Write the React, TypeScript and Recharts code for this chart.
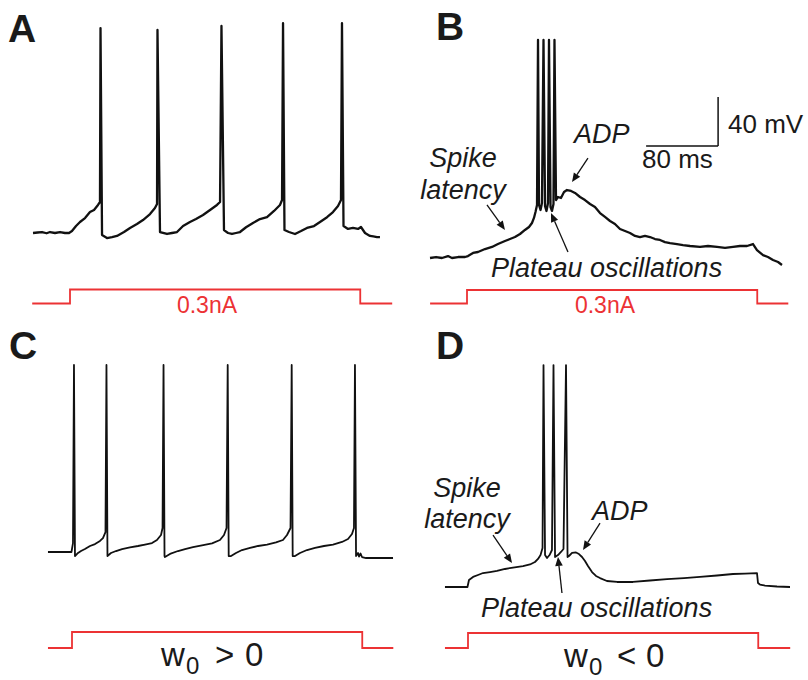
import React from "react";
import { LineChart, Line, XAxis, YAxis, ReferenceLine } from "recharts";

// units: time in ms (0 = current step onset), membrane potential in mV, current in nA
const REST_MV = -70;
const PX_PER_MS = 0.9;
const PX_PER_MV = 1.225;
const STEP_NA = 0.3;
const RED = "#ec3234";
const INK = "#111";
const FONT = "'Liberation Sans', Arial, Helvetica, sans-serif";

// stimulus: step times and current levels (stepAfter)
const STIM_I = [0, STEP_NA, 0, 0];
const STIM_A_T = [-42, 0, 322.5, 358];
const STIM_B_T = [-41, 0, 322.5, 357];
const STIM_C_T = [-26.7, 0, 322.5, 357];
const STIM_D_T = [-25.6, 0, 322.5, 358];

// A: recorded, regular firing
const TRACE_A: [number, number][] = [
  [-41.1, -70], [-36, -69.6], [-31.1, -69.2], [-26, -70.2], [-22.2, -69.2], [-16.7, -70], [-11.1, -69.2],
  [-5.6, -70], [-1.1, -70], [2.2, -68.4], [6.7, -64.3], [11.1, -61], [16.7, -57.8], [22.2, -52.9],
  [26.7, -51.2], [31.1, -47.1], [33.3, -44.7], [33.9, 97.3], [35.6, -71.6], [41.1, -74.1], [46.7, -73.3],
  [52.2, -72.4], [60, -69.2], [66.7, -65.9], [74.4, -62.7], [81.1, -59.4], [88.9, -54.5], [94.4, -49.6],
  [96.7, -46.3], [97.2, 95.7], [100, -69.2], [107.8, -70.8], [113.3, -70], [118.9, -69.2], [125.6, -64.3],
  [133.3, -61], [140, -58.6], [147.8, -55.3], [155.6, -51.2], [163.3, -47.1], [166.7, -44.7], [168.3, 99],
  [171.1, -67.6], [175.6, -70], [180, -70.8], [184.4, -70], [188.9, -69.2], [195.6, -65.3], [203.3, -61.8],
  [211.1, -58.6], [218.9, -57.1], [226.7, -52], [233.3, -47.1], [235.6, -43.1], [236.7, 101.4],
  [238.3, -67.6], [243.3, -69.2], [250, -70.8], [256.7, -68.4], [263.3, -65.9], [271.1, -64.3],
  [277.8, -61], [285.6, -57.1], [292.2, -52.9], [297.8, -48], [301.1, -43.1], [302.2, 101.4],
  [303.9, -64.3], [308.9, -66.7], [314.4, -65.9], [320, -66.7], [323.3, -65.1], [327.8, -70],
  [333.3, -72.4], [337, -72.8], [341.1, -73.3], [344.4, -73.3],
];

// B: recorded, latency + burst + ADP
const TRACE_B: [number, number][] = [
  [-41.1, -70], [-34.4, -69.2], [-27.8, -70], [-21.1, -68.4], [-16.7, -70], [-10, -69.2], [-2.2, -69.2],
  [1.1, -68.4], [6.7, -65.9], [12.2, -65.1], [20, -62.7], [27.8, -61], [34.4, -58.6], [42.2, -56.1],
  [47.8, -54.5], [53.3, -52.9], [58.9, -50.4], [64.4, -47.1], [68.9, -44.7], [72.2, -41.4], [74.4, -37.3],
  [76.1, -32.4], [77.8, -26.7], [78.9, 108], [80, -26.7], [81.7, -30.8], [83.3, -25.1], [85, 108],
  [86.7, -27.6], [88.3, -31.6], [90, -25.1], [91.1, 108], [92.8, -28.4], [94.4, -31.6], [96.1, -25.9],
  [97.2, 108], [98.9, -22.7], [101.1, -20.2], [104.4, -21], [107.8, -16.1], [111.1, -14.5], [115.6, -15.3],
  [120, -16.9], [125.6, -20.2], [131.1, -22.7], [136.7, -25.9], [142.2, -28.4], [147.8, -33.3],
  [153.3, -36.5], [158.9, -39.8], [164.4, -42.2], [170, -46.3], [175.6, -48], [181.1, -49.6],
  [186.7, -52], [192.2, -52.9], [197.8, -52], [203.3, -52.9], [208.9, -54.5], [214.4, -55.3], [220, -57],
  [225.6, -57.8], [233.3, -58.6], [240, -59.4], [247.8, -60.2], [258.9, -61], [267.8, -60.2],
  [277.8, -61], [286.7, -61.8], [295.6, -61], [303.3, -60.2], [311.1, -60.2], [317.8, -58.6],
  [322.2, -63.5], [328.9, -67.6], [334.4, -69.2], [340, -71.6], [345.6, -73.3], [350, -75.7],
];

// C: model, w0 > 0
const TRACE_C: [number, number][] = [
  [-26.7, -70], [-0.6, -70], [1.1, -62.7], [2.2, 82.7], [3.3, -73.3], [6.7, -70.8], [10, -69.2],
  [14.4, -67.6], [20, -65.1], [25.6, -63.5], [31.1, -61], [34.4, -58.6], [37.2, -53.7], [38.3, 82.7],
  [39.4, -73.3], [43.3, -70.8], [48.9, -69.2], [55.6, -67.6], [64.4, -66.3], [73.3, -65.1], [81.1, -63.9],
  [88.9, -62.7], [94.4, -60.2], [98.9, -56.1], [100.6, -50.4], [101.7, 82.7], [102.8, -73.3],
  [103.3, -74.1], [108.9, -71.6], [117.8, -69.2], [125.6, -67.6], [134.4, -66.1], [144.4, -64.5],
  [155.6, -62.9], [164.4, -60.2], [168.9, -56.1], [171.7, -50.4], [173, 82.7], [174.1, -73.3],
  [176.7, -73.3], [182.2, -70.8], [188.9, -68.4], [197.8, -66.7], [206.7, -65.1], [216.7, -63.9],
  [226.7, -62.2], [234.4, -60.2], [238.9, -56.1], [242.8, -50.4], [244.1, 82.7], [245.2, -73.3],
  [247.8, -73.3], [253.3, -70.8], [261.1, -68.4], [270, -66.7], [280, -65.1], [290, -63.9], [300, -61.8],
  [306.7, -59.4], [311.1, -55.3], [313.3, -50.4], [314.4, 82.7], [315.6, -73.3], [317.8, -70.8],
  [318.9, -73.7], [320.6, -71.2], [322.2, -74.1], [326.7, -74.9], [356.7, -74.9],
];

// D: model, w0 < 0
const TRACE_D: [number, number][] = [
  [-25.6, -70], [-0.6, -70], [1.1, -64.3], [5.6, -61.8], [11.1, -60.2], [16.7, -58.6], [24.4, -57.8],
  [32.2, -56.9], [41.1, -55.3], [50, -54.1], [61.1, -52.9], [68.9, -51.6], [74.4, -49.6], [77.8, -47.1],
  [80.6, -43.9], [82.8, -38.2], [83.9, 111.2], [85.6, -43.9], [87.8, -46.3], [90.6, -43.9], [93.3, -39.8],
  [95, 111.2], [96.7, -45.5], [100, -43.9], [103.3, -41.4], [106.1, -39], [108.9, 111.2], [110.6, -45.5],
  [112.2, -44.7], [115.6, -42.2], [120, -41.8], [123.3, -43.1], [126.7, -45.5], [130, -48.8],
  [133.3, -52.9], [137.8, -57.8], [142.2, -61], [146.7, -62.7], [154.4, -65.1], [165.6, -65.9],
  [183.3, -65.9], [202.2, -64.7], [221.1, -63.5], [240, -62.7], [257.8, -61.8], [276.7, -60.6],
  [294.4, -59.4], [307.8, -59], [321.1, -58.6], [322.2, -66.7], [324.4, -68], [330, -68.8],
  [343.3, -69.6], [357.8, -70],
];

// annotation arrows [[tFrom, vFrom], [tTip, vTip]]
const ARROWS_B: [number, number][][] = [
  [[22.2, -26.7], [42.2, -47.1]],
  [[112.2, -65.1], [93.3, -33.3]],
  [[134.4, 11.6], [116.7, -8]],
];
const ARROWS_D: [number, number][][] = [
  [[27.8, -27.6], [48.9, -50.4]],
  [[146.7, -17.8], [127.8, -39.8]],
  [[104.4, -74.9], [100, -45.5]],
];

// scale bar (B)
const SCALE_MS = 80;
const SCALE_MV = 40;
const SCALE_CORNER: [number, number] = [279, 21.4];

type Box = { left: number; top: number; width: number; height: number; x0: number; yRest: number; iBase: number; iTop: number };

const BOX_A: Box = { left: 20, top: 10, width: 385, height: 310, x0: 70, yRest: 233, iBase: 303.5, iTop: 289.5 };
const BOX_B: Box = { left: 415, top: 10, width: 393, height: 310, x0: 467, yRest: 258, iBase: 303.5, iTop: 290 };
const BOX_C: Box = { left: 20, top: 330, width: 385, height: 345, x0: 72, yRest: 552, iBase: 648, iTop: 632 };
const BOX_D: Box = { left: 415, top: 330, width: 393, height: 345, x0: 468, yRest: 587, iBase: 648, iTop: 633 };

function domains(b: Box) {
  const t: [number, number] = [(b.left - b.x0) / PX_PER_MS, (b.left + b.width - b.x0) / PX_PER_MS];
  const v: [number, number] = [
    REST_MV - (b.top + b.height - b.yRest) / PX_PER_MV,
    REST_MV + (b.yRest - b.top) / PX_PER_MV,
  ];
  const k = STEP_NA / (b.iBase - b.iTop);
  const i: [number, number] = [-(b.top + b.height - b.iBase) * k, (b.iBase - b.top) * k];
  return { t, v, i };
}

const ArrowShape = (p: any) => {
  const { x1, y1, x2, y2 } = p;
  const a = Math.atan2(y2 - y1, x2 - x1);
  const len = 9;
  const half = 3.8;
  const bx = x2 - len * Math.cos(a);
  const by = y2 - len * Math.sin(a);
  const px = -Math.sin(a) * half;
  const py = Math.cos(a) * half;
  return (
    <g>
      <line x1={x1} y1={y1} x2={bx} y2={by} stroke={INK} strokeWidth={1.3} />
      <polygon points={`${x2},${y2} ${bx + px},${by + py} ${bx - px},${by - py}`} fill={INK} />
    </g>
  );
};

function Panel({ box, trace, stimT, traceWidth, children }: { box: Box; trace: [number, number][]; stimT: number[]; traceWidth: number; children?: React.ReactNode }) {
  const d = domains(box);
  const traceData = trace.map(([t, v]) => ({ t, v }));
  const stimData = stimT.map((t, k) => ({ t, i: STIM_I[k] }));
  return (
    <div style={{ position: "absolute", left: box.left, top: box.top }}>
      <LineChart width={box.width} height={box.height} margin={{ top: 0, right: 0, bottom: 0, left: 0 }}>
        <XAxis type="number" dataKey="t" domain={d.t} hide allowDataOverflow />
        <YAxis yAxisId="v" type="number" domain={d.v} hide allowDataOverflow />
        <YAxis yAxisId="i" type="number" domain={d.i} hide allowDataOverflow />
        <Line data={stimData} yAxisId="i" dataKey="i" type="stepAfter" stroke={RED} strokeWidth={1.8} dot={false} isAnimationActive={false} />
        <Line data={traceData} yAxisId="v" dataKey="v" type="linear" stroke={INK} strokeWidth={traceWidth} strokeLinejoin="round" dot={false} isAnimationActive={false} />
        {children}
      </LineChart>
    </div>
  );
}

const arrowLines = (arrows: [number, number][][], prefix: string) =>
  arrows.map(([from, tip], k) => (
    <ReferenceLine
      key={prefix + k}
      yAxisId="v"
      segment={[{ x: from[0], y: from[1] }, { x: tip[0], y: tip[1] }]}
      shape={ArrowShape}
      ifOverflow="visible"
    />
  ));

const txt = { fontFamily: FONT, fill: "#1a1a1a" };
const ital = { ...txt, fontStyle: "italic", fontSize: 27 };

export default function App() {
  const [ct, cv] = SCALE_CORNER;
  return (
    <div style={{ position: "absolute", left: 0, top: 0, width: 808, height: 680, background: "#fff", overflow: "hidden" }}>
      <Panel box={BOX_A} trace={TRACE_A} stimT={STIM_A_T} traceWidth={2.3} />
      <Panel box={BOX_B} trace={TRACE_B} stimT={STIM_B_T} traceWidth={2.3}>
        {arrowLines(ARROWS_B, "b")}
        <ReferenceLine yAxisId="v" segment={[{ x: ct - SCALE_MS, y: cv }, { x: ct, y: cv }]} stroke={INK} strokeWidth={1.5} ifOverflow="visible" />
        <ReferenceLine yAxisId="v" segment={[{ x: ct, y: cv }, { x: ct, y: cv + SCALE_MV }]} stroke={INK} strokeWidth={1.5} ifOverflow="visible" />
      </Panel>
      <Panel box={BOX_C} trace={TRACE_C} stimT={STIM_C_T} traceWidth={1.8} />
      <Panel box={BOX_D} trace={TRACE_D} stimT={STIM_D_T} traceWidth={1.8}>
        {arrowLines(ARROWS_D, "d")}
      </Panel>
      <svg width={808} height={680} style={{ position: "absolute", left: 0, top: 0, pointerEvents: "none" }}>
        <text x={8} y={42} {...txt} fontWeight={700} fontSize={39}>A</text>
        <text x={436} y={40} {...txt} fontWeight={700} fontSize={39}>B</text>
        <text x={9} y={359} {...txt} fontWeight={700} fontSize={39}>C</text>
        <text x={436} y={359} {...txt} fontWeight={700} fontSize={39}>D</text>

        <text x={207} y={313} textAnchor="middle" fontFamily={FONT} fontSize={23} fill={RED}>0.3nA</text>
        <text x={605} y={313} textAnchor="middle" fontFamily={FONT} fontSize={23} fill={RED}>0.3nA</text>

        <text x={463} y={167} textAnchor="middle" style={ital}>Spike</text>
        <text x={463} y={199} textAnchor="middle" style={ital}>latency</text>
        <text x={574} y={143} style={ital}>ADP</text>
        <text x={491} y={277} style={ital}>Plateau oscillations</text>
        <text x={728} y={133} fontFamily={FONT} fontSize={26} fill="#1a1a1a">40 mV</text>
        <text x={642} y={168} fontFamily={FONT} fontSize={26} fill="#1a1a1a">80 ms</text>

        <text x={467} y={497} textAnchor="middle" style={ital}>Spike</text>
        <text x={467} y={528} textAnchor="middle" style={ital}>latency</text>
        <text x={592} y={520} style={ital}>ADP</text>
        <text x={481} y={617} style={ital}>Plateau oscillations</text>

        <text x={161} y={666} fontFamily={FONT} fontSize={33} fill="#1a1a1a">w</text>
        <text x={186} y={674} fontFamily={FONT} fontSize={24} fill="#1a1a1a">0</text>
        <text x={215} y={666} fontFamily={FONT} fontSize={33} fill="#1a1a1a">&gt;</text>
        <text x={245} y={666} fontFamily={FONT} fontSize={33} fill="#1a1a1a">0</text>

        <text x={564} y={667} fontFamily={FONT} fontSize={33} fill="#1a1a1a">w</text>
        <text x={589} y={675} fontFamily={FONT} fontSize={24} fill="#1a1a1a">0</text>
        <text x={617} y={667} fontFamily={FONT} fontSize={33} fill="#1a1a1a">&lt;</text>
        <text x={646} y={667} fontFamily={FONT} fontSize={33} fill="#1a1a1a">0</text>
      </svg>
    </div>
  );
}
